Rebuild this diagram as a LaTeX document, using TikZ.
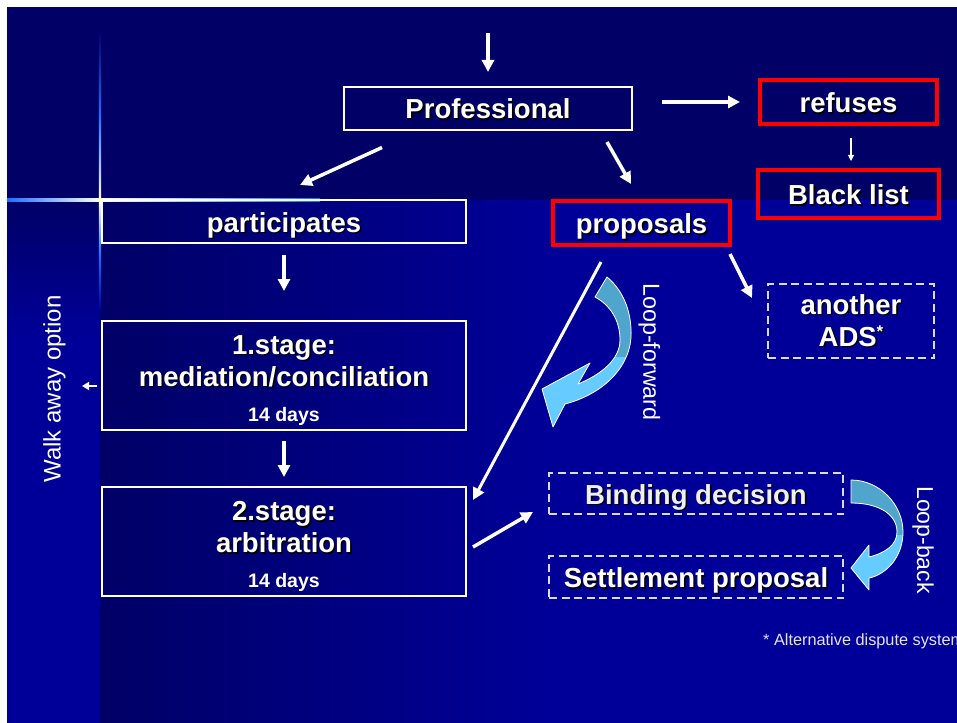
\documentclass[tikz,border=0pt]{standalone}
\usepackage{fontspec}
\setmainfont{Liberation Sans}
\usetikzlibrary{arrows.meta,calc}
\definecolor{navy}{HTML}{000066}
\definecolor{blu}{HTML}{000099}
\definecolor{lbdark}{HTML}{50A5CC}
\definecolor{lblight}{HTML}{66CCFF}
\definecolor{dashgray}{HTML}{DADAE8}
\definecolor{flareblue}{RGB}{30,110,255}
\definecolor{footcol}{HTML}{E4E4F4}
\newcommand{\shd}[1]{\leavevmode\rlap{\kern1.6pt\raisebox{-1.6pt}{\textcolor{black}{#1}}}#1}
\begin{document}
\begin{tikzpicture}[x=1pt,y=-1pt,
  big/.style={font=\fontsize{27.5}{32}\selectfont\bfseries, text=white},
  single/.style={text height=21pt, text depth=0pt},
  wbox/.style={draw=white, line width=1.3pt, big, inner sep=0pt, outer sep=0pt},
  rbox/.style={draw=red, line width=4pt, big, inner sep=0pt, outer sep=0pt},
  dbox/.style={draw=dashgray, line width=1.3pt, dash pattern=on 8pt off 4.5pt, big, inner sep=0pt, outer sep=0pt},
  arr/.style={draw=white, line width=3.5pt, -{Triangle[length=12pt,width=12pt]}},
  thinarr/.style={draw=white, line width=1.1pt, -{Triangle[length=6pt,width=6pt]}},
  smallarr/.style={draw=white, line width=2pt, -{Triangle[length=7pt,width=8pt]}},
  looptext/.style={font=\fontsize{23.3}{28}\selectfont, text=white, inner sep=0pt}
]
\useasboundingbox (0,0) rectangle (957,722);
\clip (0,0) rectangle (957,722);
\fill[white] (0,0) rectangle (957,722);
% background
\fill[navy] (7,7) rectangle (960,200.5);
\shade[top color=navy, bottom color=blu] (7,200) rectangle (100.5,340);
\fill[blu] (7,339.5) rectangle (100.5,730);
\shade[left color=navy, right color=blu] (100,200) rectangle (560,730);
\fill[blu] (559.5,200) rectangle (960,730);
% flare
\shade[top color=navy, bottom color=white, middle color=flareblue] (98.8,30) rectangle (101.2,200);
\shade[top color=white, bottom color=blu, middle color=flareblue] (98.8,200) rectangle (101.2,310);
\shade[left color=flareblue, right color=white] (7,198.8) rectangle (100,201.2);
\shade[left color=white, right color=flareblue] (100,198.8) rectangle (320,201.2);
\fill[white!80!yellow] (100,200) circle (2.5);

% boxes
\node[wbox, single, minimum width=288pt, minimum height=43pt] (prof) at (488,108.5) {\shd{Professional}};
\node[rbox, single, minimum width=177pt, minimum height=44pt] (refuses) at (848.5,102) {\shd{refuses}};
\node[rbox, single, minimum width=181pt, minimum height=48pt] (black) at (848.5,194) {\shd{Black list}};
\node[wbox, single, minimum width=364pt, minimum height=43pt] (part) at (284,221.5) {\shd{participates}};
\node[rbox, single, minimum width=177pt, minimum height=44pt] (prop) at (641.5,223) {\shd{proposals}};
\node[wbox, align=center, minimum width=364pt, minimum height=109pt] (s1) at (284,375.5)
  {\rule{0pt}{28.5pt}\shd{1.stage:}\\\shd{mediation/conciliation}\\[3pt]{\fontsize{19.5}{22}\selectfont 14 days}};
\node[wbox, align=center, minimum width=364pt, minimum height=109pt] (s2) at (284,541.5)
  {\rule{0pt}{29.5pt}\shd{2.stage:}\\\shd{arbitration}\\[3.5pt]{\fontsize{19.5}{22}\selectfont 14 days}};
\node[dbox, align=center, minimum width=166pt, minimum height=74pt] (ads) at (851,321)
  {\shd{another}\\\shd{ADS\raisebox{9pt}{\fontsize{17}{17}\selectfont *}}};
\node[dbox, single, minimum width=294pt, minimum height=41pt, text=white!88!gray] (bind) at (696,493.5) {\shd{Binding decision}};
\node[dbox, single, minimum width=294pt, minimum height=42pt] (settle) at (696,577) {\shd{Settlement proposal}};

% side texts
\node[rotate=90, font=\fontsize{24}{28}\selectfont, text=white, inner sep=0pt] (walk) at (54.5,389) {Walk away option};
\node[rotate=-90, looptext] (lf) at (649.5,352) {Loop-forward};
\node[rotate=-90, looptext, font=\fontsize{23}{28}\selectfont] (lb) at (923,540) {Loop-back};
\node[anchor=base west, font=\fontsize{16.3}{19}\selectfont, text=footcol, inner sep=0pt] (foot) at (763,645) {* Alternative dispute system};

% connectors
\coordinate (topc) at (488,33);
\draw[arr, shorten >=15pt] (topc) -- (prof.north);
\draw[arr, shorten <=30pt, shorten >=20pt] (refuses.west -| prof.east) -- (refuses.west);
\draw[arr] ($(prof.south)+(-106,17.5)$) -- ($(part.north)+(16,-15)$);
\draw[arr] ($(prof.south)+(119,12)$) -- ($(prop.north)+(-10.5,-17)$);
\draw[thinarr] ($(refuses.south)+(2.5,14)$) -- ($(black.north)+(2.5,-9)$);
\draw[arr, shorten <=12pt, shorten >=30pt] (part.south) -- (s1.north);
\draw[arr, shorten <=11pt, shorten >=10pt] (s1.south) -- (s2.north);
\draw[arr, line width=3pt] ($(prop.south)+(-40.5,17)$) -- ($(s2.east)+(7,-41.5)$);
\draw[arr] ($(prop.south east)+(0,9)$) -- ($(ads.north west)+(-16,14)$);
\draw[arr] ($(s2.east)+(7,5.5)$) -- ($(bind.west)+(-16,18.5)$);
\draw[smallarr] ($(s1.west)+(-5,10.5)$) -- ($(s1.west)+(-20,10.5)$);

% loop-forward curved arrow
\def\lfpath{(607,277) .. controls (625,292) and (632,315) .. (631,337) .. controls (629,370) and (600,395) .. (565,404) -- (553,427) -- (542,389) -- (590,363) -- (578,384) .. controls (600,375) and (620,360) .. (620,340) .. controls (620,320) and (610,305) .. (595,297) -- cycle}
\fill[lblight] \lfpath;
\begin{scope}
\clip (520,260) rectangle (660,356);
\fill[lbdark] \lfpath;
\end{scope}
\draw[white, line width=0.8pt, line join=round] \lfpath;

% loop-back curved arrow
\def\lbpath{(851,480) .. controls (880,480) and (903,505) .. (903,532) .. controls (903,558) and (885,575) .. (869,578) -- (869,590) -- (851,568) -- (869,545) -- (869,557) .. controls (885,553) and (897,545) .. (897,532) .. controls (897,515) and (880,503) .. (851,503) -- cycle}
\fill[lblight] \lbpath;
\begin{scope}
\clip (840,470) rectangle (915,534);
\fill[lbdark] \lbpath;
\end{scope}
\draw[white, line width=0.8pt, line join=round] \lbpath;
\end{tikzpicture}
\end{document}
